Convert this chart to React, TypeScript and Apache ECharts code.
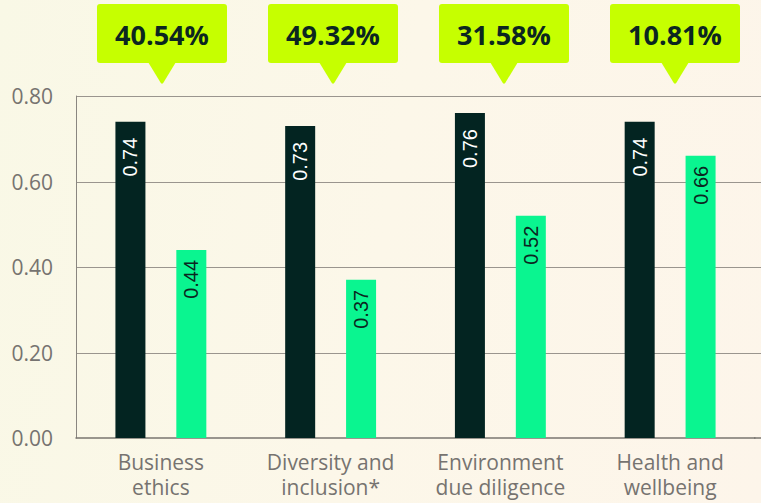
import React, { useEffect, useRef } from "react";
import * as echarts from "echarts";

const categories = ["Business\nethics", "Diversity and\ninclusion*", "Environment\ndue diligence", "Health and\nwellbeing"];
const darkValues = [0.74, 0.73, 0.76, 0.74];
const greenValues = [0.44, 0.37, 0.52, 0.66];
const calloutLabels = ["40.54%", "49.32%", "31.58%", "10.81%"];
const yTicks = [0, 0.2, 0.4, 0.6, 0.8];

const DARK = "#032421";
const GREEN = "#0af590";
const LIME = "#c6ff00";
const TEXT_DARK = "#0b2620";
const GRID_COLOR = "#9a958e";

export default function App() {
  const ref = useRef<HTMLDivElement>(null);
  useEffect(() => {
    if (!ref.current) return;
    const chart = echarts.init(ref.current, undefined, { renderer: "svg" });
    const gridLeft = 76;
    const gridRight = 6;
    chart.setOption({
      animation: false,
      backgroundColor: "transparent",
      grid: { left: gridLeft, right: gridRight, top: 96, bottom: 65, containLabel: false },
      xAxis: {
        type: "category",
        data: categories,
        axisTick: { show: false },
        axisLine: { show: true, lineStyle: { color: "#7a7670", width: 1.5 } },
        axisLabel: {
          color: "#767370",
          fontFamily: "Open Sans",
          fontSize: 21,
          lineHeight: 25,
          margin: 11,
          interval: 0,
        },
        z: 3,
      },
      yAxis: {
        type: "value",
        min: 0,
        max: 0.8,
        interval: 0.2,
        axisLine: { show: true, lineStyle: { color: "#8a8680", width: 1 } },
        axisTick: { show: false },
        splitLine: { show: false },
        axisLabel: {
          color: "#767370",
          fontFamily: "Open Sans",
          fontSize: 21,
          margin: 23,
          formatter: (v: number) => v.toFixed(2),
        },
      },
      series: [
        {
          type: "bar",
          data: darkValues,
          barWidth: 30,
          barGap: "103%",
          itemStyle: { color: DARK },
          z: 5,
          label: {
            show: true,
            position: "insideTop",
            distance: 16,
            rotate: 90,
            align: "right",
            verticalAlign: "middle",
            color: "#ffffff",
            fontFamily: "Liberation Sans",
            fontSize: 20,
            formatter: (p: any) => p.value.toFixed(2),
          },
        },
        {
          type: "bar",
          data: greenValues,
          barWidth: 30,
          itemStyle: { color: GREEN },
          z: 5,
          label: {
            show: true,
            position: "insideTop",
            distance: 10,
            rotate: 90,
            align: "right",
            verticalAlign: "middle",
            color: TEXT_DARK,
            fontFamily: "Liberation Sans",
            fontSize: 20,
            formatter: (p: any) => p.value.toFixed(2),
          },
        },
      ],
    });

    const width = chart.getWidth();
    const fullBand = (width - gridLeft) / categories.length;
    const graphics: any[] = [];
    // horizontal grid lines, spanning to the right edge
    yTicks.forEach((v) => {
      const yRaw = chart.convertToPixel({ yAxisIndex: 0 }, v) as number;
      if (v === 0) {
        graphics.push({
          type: "line",
          silent: true,
          z: 0,
          shape: { x1: width - gridRight - 1, y1: yRaw, x2: width, y2: yRaw },
          style: { stroke: "#7a7670", lineWidth: 1.5 },
        });
        return;
      }
      const y = Math.round(yRaw) + 0.5;
      graphics.push({
        type: "line",
        silent: true,
        z: 0,
        shape: { x1: gridLeft, y1: y, x2: width, y2: y },
        style: { stroke: GRID_COLOR, lineWidth: 1 },
      });
    });
    categories.forEach((c, i) => {
      const cx = Math.round(gridLeft + fullBand * (i + 0.5));
      graphics.push({
        type: "rect",
        shape: { x: cx - 65, y: 4, width: 130, height: 59, r: 3 },
        style: { fill: LIME },
      });
      graphics.push({
        type: "polygon",
        shape: { points: [[cx - 14, 62], [cx + 14, 62], [cx + 1.5, 82.5], [cx, 84], [cx - 1.5, 82.5]] },
        style: { fill: LIME },
      });
      graphics.push({
        type: "text",
        x: cx,
        y: 34,
        style: {
          text: calloutLabels[i],
          fill: TEXT_DARK,
          font: "bold 27px 'Open Sans'",
          align: "center",
          verticalAlign: "middle",
        },
      });
    });
    chart.setOption({ graphic: { elements: graphics } });

    return () => chart.dispose();
  }, []);

  return (
    <div
      style={{
        position: "absolute",
        left: 0,
        top: 0,
        width: 761,
        height: 503,
        background: "linear-gradient(100deg, #f9f8e6 0%, #fcf7e9 50%, #fdf5ea 100%)",
      }}
    >
      <div ref={ref} style={{ width: 761, height: 503 }} />
    </div>
  );
}
